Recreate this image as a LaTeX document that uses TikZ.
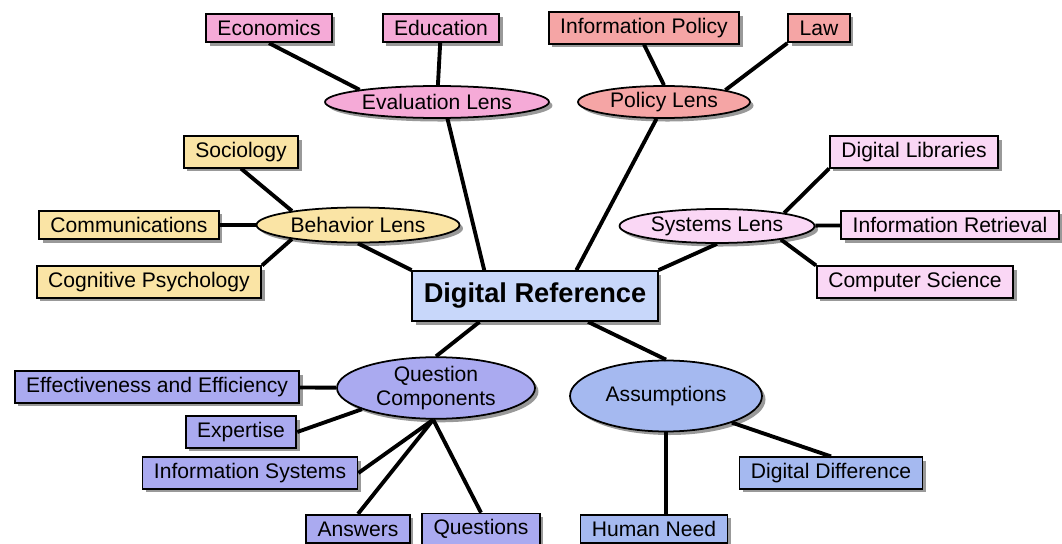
\documentclass[tikz,border=0pt]{standalone}
\usepackage{fontspec}
\setmainfont{Liberation Sans}
\usetikzlibrary{shapes.geometric,shadows}

\definecolor{evalpink}{RGB}{245,170,215}
\definecolor{policyred}{RGB}{245,165,165}
\definecolor{behavyellow}{RGB}{250,228,165}
\definecolor{syspink}{RGB}{250,215,245}
\definecolor{refblue}{RGB}{200,215,250}
\definecolor{questlilac}{RGB}{170,170,240}
\definecolor{assumblue}{RGB}{165,185,240}

\begin{document}
\begin{tikzpicture}[x=0.02cm,y=-0.02cm,thick,
  every node/.style={font=\fontsize{12}{13.6}\selectfont},
  box/.style={rectangle,draw,line width=1pt,inner xsep=6.5pt,minimum height=0.57cm,
    drop shadow={shadow xshift=2pt,shadow yshift=-2pt,fill=black!40,opacity=1}},
  lens/.style={ellipse,draw,line width=1pt,inner sep=0pt,
    drop shadow={shadow xshift=2pt,shadow yshift=-2pt,fill=black!40,opacity=1}},
  link/.style={line width=2.2pt}]

  \fill[white] (0,0) rectangle (1062,544);
  \useasboundingbox (0,0) rectangle (1062,544);

  \node[box,fill=refblue,font=\fontsize{15.5}{18}\bfseries\selectfont,minimum width=4.9cm,minimum height=1cm] (1) at (535,296) {Digital Reference};

  \node[lens,fill=evalpink,minimum width=4.48cm,minimum height=0.64cm] (2) at (437,102) {Evaluation Lens};
  \node[box,fill=evalpink] (3) at (269,28) {Economics};
  \node[box,fill=evalpink] (4) at (441,28) {Education};

  \node[lens,fill=policyred,minimum width=3.44cm,minimum height=0.64cm] (5) at (664,102) {Policy Lens};
  \node[box,fill=policyred] (6) at (644,28) {Information Policy};
  \node[box,fill=policyred] (7) at (819,28) {Law};

  \node[lens,fill=behavyellow,minimum width=4.06cm,minimum height=0.7cm] (8) at (358,225) {Behavior Lens};
  \node[box,fill=behavyellow] (9) at (241,152) {Sociology};
  \node[box,fill=behavyellow] (10) at (129,225) {Communications};
  \node[box,fill=behavyellow] (11) at (149,282) {Cognitive Psychology};

  \node[lens,fill=syspink,minimum width=3.9cm,minimum height=0.68cm] (12) at (717,226) {Systems Lens};
  \node[box,fill=syspink] (13) at (914,152) {Digital Libraries};
  \node[box,fill=syspink] (14) at (950,225) {Information Retrieval};
  \node[box,fill=syspink] (15) at (915,282) {Computer Science};

  \node[lens,fill=questlilac,align=center,minimum width=3.96cm,minimum height=1.2cm] (16) at (436,388) {Question\\Components};
  \node[box,fill=questlilac] (17) at (157,387) {Effectiveness and Efficiency};
  \node[box,fill=questlilac] (18) at (241,432) {Expertise};
  \node[box,fill=questlilac] (19) at (250,473) {Information Systems};
  \node[box,fill=questlilac] (20) at (358,529) {Answers};
  \node[box,fill=questlilac] (21) at (481,529) {Questions};

  \node[lens,fill=assumblue,minimum width=3.84cm,minimum height=1.42cm] (22) at (666,396) {Assumptions};
  \node[box,fill=assumblue] (23) at (654,529) {Human Need};
  \node[box,fill=assumblue] (24) at (831,473) {Digital Difference};

  \path[link]
    (1.153) edge (2.-58)
    (1.32) edge (5.-114)
    (1.north west) edge (8.south)
    (1.north east) edge (12.south)
    (1.-155) edge (16.north)
    (1.-26) edge (22.north);

  \path[link]
    (2.171) edge (3.south)
    (2) edge (4)
    (5.north) edge (6.south)
    (5.11) edge (7.south west);

  \path[link]
    (8.168) edge (9.south)
    (8) edge (10)
    (8.192) edge (11.north east)
    (12.11) edge (13.south west)
    (12) edge (14)
    (12.-12) edge (15.north west);

  \path[link]
    (16) edge (17)
    (16.196) edge (18.east)
    (16.-95) edge (19.east)
        edge (20.north)
        edge (21.north)
    (22.south) edge (22.south |- 23.north)
    (22.-22) edge (24.north);

\end{tikzpicture}
\end{document}
